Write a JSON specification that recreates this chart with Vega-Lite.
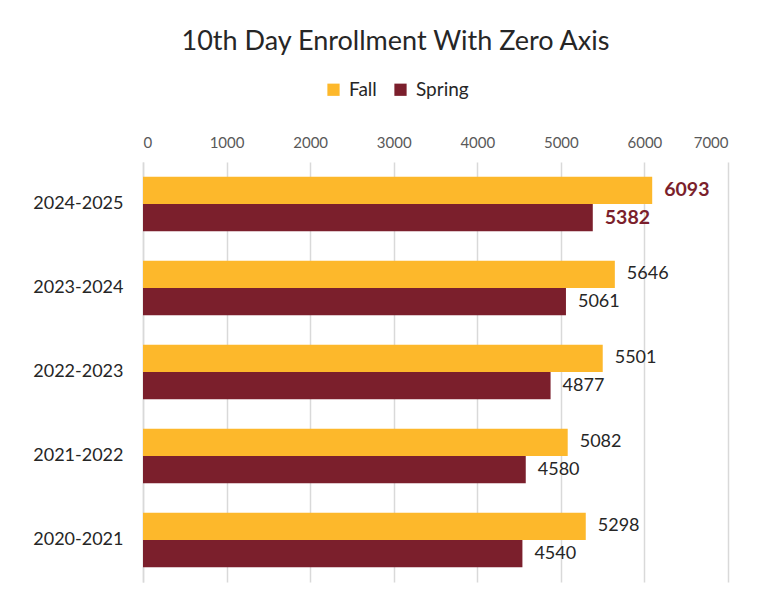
{
  "$schema": "https://vega.github.io/schema/vega-lite/v6.json",
  "width": 585,
  "height": 420,
  "autosize": "none",
  "padding": {"left": 143, "top": 162, "right": 29, "bottom": 19},
  "background": "white",
  "title": {
    "text": "10th Day Enrollment With Zero Axis",
    "font": "Lato",
    "fontSize": 27,
    "fontWeight": "normal",
    "color": "#262626",
    "anchor": "middle",
    "dx": -40,
    "offset": 24
  },
  "data": {
    "values": [
      {"year": "2024-2025", "season": "Fall", "enrollment": 6093},
      {"year": "2024-2025", "season": "Spring", "enrollment": 5382},
      {"year": "2023-2024", "season": "Fall", "enrollment": 5646},
      {"year": "2023-2024", "season": "Spring", "enrollment": 5061},
      {"year": "2022-2023", "season": "Fall", "enrollment": 5501},
      {"year": "2022-2023", "season": "Spring", "enrollment": 4877},
      {"year": "2021-2022", "season": "Fall", "enrollment": 5082},
      {"year": "2021-2022", "season": "Spring", "enrollment": 4580},
      {"year": "2020-2021", "season": "Fall", "enrollment": 5298},
      {"year": "2020-2021", "season": "Spring", "enrollment": 4540}
    ]
  },
  "encoding": {
    "y": {
      "field": "year",
      "type": "nominal",
      "sort": ["2024-2025", "2023-2024", "2022-2023", "2021-2022", "2020-2021"],
      "scale": {"paddingInner": 0.35, "paddingOuter": 0.175},
      "axis": {
        "title": null,
        "ticks": false,
        "domain": true,
        "domainColor": "#D9D9D9",
        "domainWidth": 1.5,
        "labelFont": "Lato",
        "labelFontSize": 18,
        "labelColor": "#262626",
        "labelPadding": 20
      }
    },
    "yOffset": {
      "field": "season",
      "type": "nominal",
      "sort": ["Fall", "Spring"]
    },
    "x": {
      "field": "enrollment",
      "type": "quantitative",
      "scale": {"domain": [0, 7000], "nice": false},
      "axis": {
        "orient": "top",
        "title": null,
        "values": [0, 1000, 2000, 3000, 4000, 5000, 6000, 7000],
        "format": "d",
        "ticks": false,
        "domain": false,
        "grid": true,
        "gridColor": "#D9D9D9",
        "gridWidth": 1.5,
        "labelFont": "Lato",
        "labelFontSize": 15,
        "labelColor": "#595959",
        "labelPadding": 12
      }
    }
  },
  "layer": [
    {
      "mark": {"type": "bar"},
      "encoding": {
        "color": {
          "field": "season",
          "type": "nominal",
          "sort": ["Fall", "Spring"],
          "scale": {"domain": ["Fall", "Spring"], "range": ["#FDB82B", "#7B1F2C"]},
          "legend": {
            "title": null,
            "orient": "none",
            "direction": "horizontal",
            "legendX": 181,
            "legendY": -82,
            "symbolType": "square",
            "symbolSize": 150,
            "symbolStrokeWidth": 0,
            "labelFont": "Lato",
            "labelFontSize": 19,
            "labelColor": "#262626",
            "columnPadding": 14,
            "labelOffset": 6
          }
        }
      }
    },
    {
      "transform": [{"filter": "datum.year !== '2024-2025'"}],
      "mark": {
        "type": "text",
        "align": "left",
        "baseline": "middle",
        "dx": 12,
        "font": "Lato",
        "fontSize": 18,
        "color": "#262626"
      },
      "encoding": {"text": {"field": "enrollment", "type": "quantitative", "format": "d"}}
    },
    {
      "transform": [{"filter": "datum.year === '2024-2025'"}],
      "mark": {
        "type": "text",
        "align": "left",
        "baseline": "middle",
        "dx": 12,
        "font": "Lato",
        "fontSize": 19.5,
        "fontWeight": "bold",
        "color": "#7B1F2C"
      },
      "encoding": {"text": {"field": "enrollment", "type": "quantitative", "format": "d"}}
    }
  ],
  "config": {
    "view": {"stroke": null}
  }
}
